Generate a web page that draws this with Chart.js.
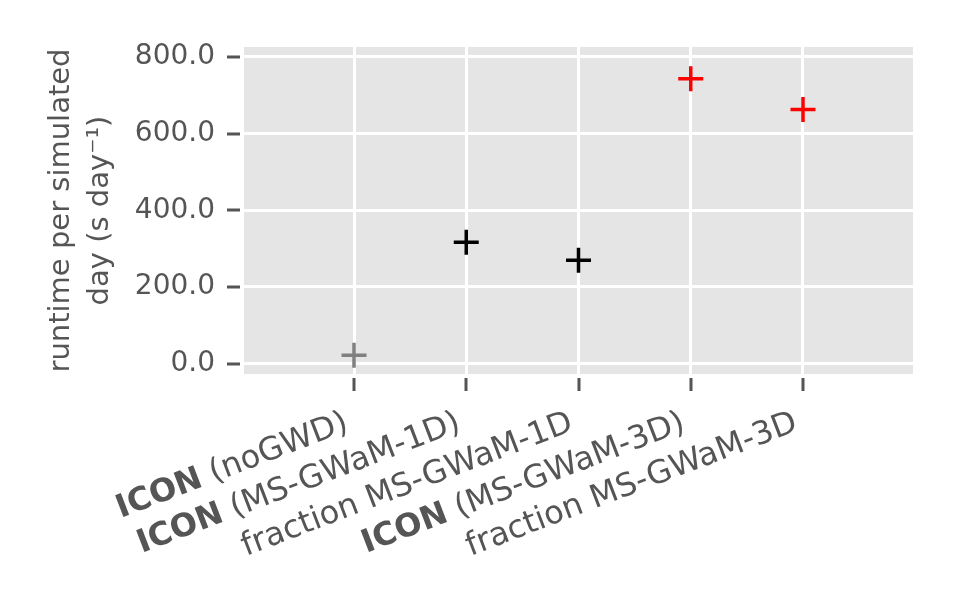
<!DOCTYPE html>
<html>
<head>
<meta charset="utf-8">
<script src="https://cdn.jsdelivr.net/npm/chart.js@4.4.1/dist/chart.umd.min.js"></script>
<style>
html, body { margin: 0; padding: 0; background: #ffffff; }
</style>
</head>
<body>
<canvas id="runtimeChart" width="960" height="600"></canvas>
<script>

var categories = ['ICON (noGWD)', 'ICON (MS-GWaM-1D)', 'fraction MS-GWaM-1D', 'ICON (MS-GWaM-3D)', 'fraction MS-GWaM-3D'];
var runtime = [22, 317, 270, 743, 663];
var markerColors = ['#808080', '#000000', '#000000', '#ff0000', '#ff0000'];
var yTicks = [0, 200, 400, 600, 800];
var yLabel = ['runtime per simulated', 'day (s day\u207B\u00B9)'];

var textColor = '#555555';
var fontFamily = "'DejaVu Sans', sans-serif";

// grey ggplot panel behind the grid
var panelPlugin = {
    id: 'panel',
    beforeDraw: function (chart) {
        var a = chart.chartArea, ctx = chart.ctx;
        ctx.save();
        ctx.fillStyle = '#e5e5e5';
        ctx.fillRect(a.left, a.top, a.right - a.left, a.bottom - a.top);
        ctx.restore();
    }
};

// outward tick marks with a small gap + rotated x labels with bold "ICON"
var axisPlugin = {
    id: 'axisMarks',
    afterDraw: function (chart) {
        var ctx = chart.ctx, a = chart.chartArea;
        var xs = chart.scales.x, ys = chart.scales.y;
        ctx.save();
        ctx.strokeStyle = textColor;
        ctx.lineWidth = 3;
        categories.forEach(function (lab, i) {
            var px = Math.round(xs.getPixelForValue(i));
            ctx.beginPath();
            ctx.moveTo(px, a.bottom + 4);
            ctx.lineTo(px, a.bottom + 17);
            ctx.stroke();
        });
        yTicks.forEach(function (v) {
            var py = Math.round(ys.getPixelForValue(v));
            ctx.beginPath();
            ctx.moveTo(a.left - 4, py);
            ctx.lineTo(a.left - 17, py);
            ctx.stroke();
        });

        ctx.fillStyle = textColor;
        ctx.textAlign = 'left';
        ctx.textBaseline = 'alphabetic';
        categories.forEach(function (lab, i) {
            var px = xs.getPixelForValue(i);
            var bold = lab.indexOf('ICON ') === 0 ? 'ICON' : '';
            var rest = lab.slice(bold.length);
            ctx.save();
            ctx.translate(px - 4, a.bottom + 56);
            ctx.rotate(-21 * Math.PI / 180);
            ctx.font = '32px ' + fontFamily;
            var wRest = ctx.measureText(rest).width;
            ctx.fillText(rest, -wRest, 0);
            if (bold) {
                ctx.font = 'bold 32px ' + fontFamily;
                var wBold = ctx.measureText(bold).width;
                ctx.fillText(bold, -wRest - wBold, 0);
            }
            ctx.restore();
        });
        ctx.restore();
    }
};

var ctx = document.getElementById('runtimeChart').getContext('2d');
var myChart = new Chart(ctx, {
    type: 'scatter',
    data: {
        datasets: [{
            label: 'runtime',
            data: categories.map(function (c, i) { return { x: i, y: runtime[i] }; }),
            pointStyle: 'cross',
            pointRadius: 12.5,
            pointHoverRadius: 12.5,
            pointBorderWidth: 3.5,
            pointHoverBorderWidth: 3.5,
            pointBorderColor: markerColors,
            pointBackgroundColor: markerColors,
            clip: false
        }]
    },
    options: {
        responsive: false,
        animation: false,
        devicePixelRatio: 1,
        events: [],
        layout: { padding: { top: 47, right: 47, left: 0, bottom: 0 } },
        plugins: {
            legend: { display: false },
            tooltip: { enabled: false }
        },
        scales: {
            x: {
                type: 'linear',
                min: -0.98,
                max: 4.98,
                afterBuildTicks: function (scale) {
                    scale.ticks = categories.map(function (c, i) { return { value: i }; });
                },
                afterFit: function (scale) { scale.height = 226; },
                ticks: { display: false },
                grid: { color: '#ffffff', lineWidth: 3, drawTicks: false },
                border: { display: false }
            },
            y: {
                type: 'linear',
                min: -27,
                max: 826,
                afterBuildTicks: function (scale) {
                    scale.ticks = yTicks.map(function (v) { return { value: v }; });
                },
                afterFit: function (scale) { scale.width = 244; },
                ticks: {
                    color: textColor,
                    padding: 29,
                    font: { family: fontFamily, size: 28 },
                    callback: function (v) { return v.toFixed(1); }
                },
                grid: { color: '#ffffff', lineWidth: 3, drawTicks: false },
                border: { display: false },
                title: {
                    display: true,
                    text: yLabel,
                    color: textColor,
                    padding: { top: 42 },
                    font: { family: fontFamily, size: 29, lineHeight: 1.35 }
                }
            }
        }
    },
    plugins: [panelPlugin, axisPlugin]
});
</script>
</body>
</html>
